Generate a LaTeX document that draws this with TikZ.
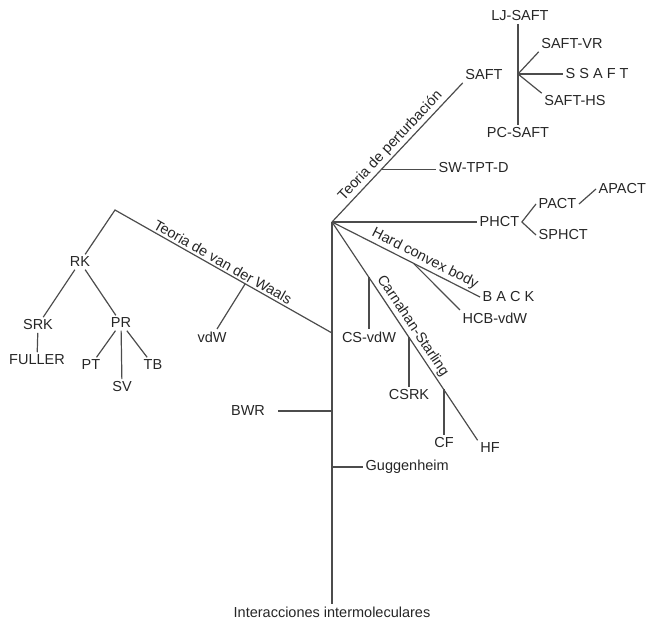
\documentclass[tikz,border=0pt]{standalone}
\usepackage{fontspec}
\setmainfont{Liberation Sans}
\usetikzlibrary{calc}

\tikzset{
  lbl/.style={font=\fontsize{14.5}{17}\selectfont, text=black!85, inner sep=2.5pt},
  tag/.style={font=\fontsize{14.5}{17}\selectfont, text=black!85, inner sep=2pt, sloped, above},
  stem/.style={draw=black!70, line width=1.2pt},
}

\begin{document}
\begin{tikzpicture}[x=1pt,y=-1pt]
  \useasboundingbox (0,0) rectangle (651,623);

  % trunk
  \coordinate (hub) at (332,222);
  \node[lbl] (root) at (332,612) {Interacciones intermoleculares};
  \draw[stem] (root.north) -- (hub);

  % perturbation
  \node[lbl] (saft) at (484,75) {SAFT};
  \draw[stem] (hub) -- node[tag] {Teoria de perturbación} (saft.south west);
  \coordinate (sh) at (518,74);
  \node[lbl] (lj) at (520,16) {LJ-SAFT};
  \node[lbl] (pc) at (518,133) {PC-SAFT};
  \node[lbl] (vr) at (572,44) {SAFT-VR};
  \node[lbl, anchor=west] (ss) at (563,74) {S S A F T};
  \node[lbl] (hs) at (575,101) {SAFT-HS};
  \draw[stem] (sh |- lj.south) -- (sh |- pc.north);
  \draw[stem] (sh) -- (vr.south west);
  \draw[stem] (sh) -- (ss.west);
  \draw[stem] (sh) -- (hs.north west);

  \coordinate (pswt) at ($(hub)!0.38!(saft.south west)$);
  \node[lbl, anchor=west] (swt) at (436,168) {SW-TPT-D};
  \draw[stem] (pswt) -- (pswt -| swt.west);

  % PHCT
  \node[lbl, anchor=west] (phct) at (477,222) {PHCT};
  \node[lbl, anchor=west] (pact) at (536,204) {PACT};
  \node[lbl, anchor=west] (sphct) at (536,235) {SPHCT};
  \node[lbl, anchor=west] (apact) at (596,189) {APACT};
  \draw[stem] (hub) -- (phct.west);
  \draw[stem] (pact.west) -- (phct.east) -- (sphct.west);
  \draw[stem] (pact.east) -- (apact.west);

  % hard convex body
  \node[lbl, anchor=west] (back) at (480,297) {B A C K};
  \draw[stem] (hub) -- node[tag, pos=0.6] {Hard convex body} (back.west);
  \coordinate (hcb) at ($(hub)!0.55!(back.west)$);
  \node[lbl, anchor=west] (hcbvdw) at (460,318) {HCB-vdW};
  \draw[stem] (hcb) -- (hcbvdw.north west);

  % Carnahan-Starling
  \node[lbl] (hf) at (490,448) {HF};
  \draw[stem] (hub) -- node[tag] {Carnahan-Starling} (hf.north west);
  \node[lbl] (csvdw) at (369,337) {CS-vdW};
  \node[lbl] (csrk) at (409,395) {CSRK};
  \node[lbl] (cf) at (444,443) {CF};
  \coordinate (c1) at (369,277);
  \coordinate (c2) at (409,337);
  \coordinate (c3) at (444,389);
  \draw[stem] (c1) -- (csvdw.north);
  \draw[stem] (c2) -- (csrk.north);
  \draw[stem] (c3) -- (cf.north);

  % van der Waals
  \coordinate (vtop) at (115,210);
  \coordinate (vjoin) at (332,333);
  \node[lbl] (rk) at (80,262) {RK};
  \draw[stem] (rk) -- (vtop) -- node[tag, pos=0.48] {Teoria de van der Waals} (vjoin);
  \coordinate (vb) at ($(vtop)!0.6!(vjoin)$);
  \node[lbl] (vdw) at (212,337) {vdW};
  \draw[stem] (vb) -- (vdw);

  \node[lbl] (srk) at (38,325) {SRK};
  \node[lbl] (fuller) at (37,360) {FULLER};
  \node[lbl] (pr) at (121,323) {PR};
  \node[lbl] (pt) at (91,365) {PT};
  \node[lbl] (sv) at (122,387) {SV};
  \node[lbl] (tb) at (153,365) {TB};
  \draw[stem] (rk) -- (srk);
  \draw[stem] (rk) -- (pr);
  \draw[stem] (srk) -- (fuller);
  \draw[stem] (pr) -- (pt);
  \draw[stem] (pr) -- (sv);
  \draw[stem] (pr) -- (tb);

  % BWR, Guggenheim
  \node[lbl] (bwr) at (248,411) {BWR};
  \coordinate (tbwr) at (332,411);
  \draw[stem, shorten >=10pt] (tbwr) -- (bwr.east);
  \node[lbl, anchor=west] (gug) at (363,467) {Guggenheim};
  \coordinate (tgug) at (332,467);
  \draw[stem] (tgug) -- (gug.west);
\end{tikzpicture}
\end{document}
